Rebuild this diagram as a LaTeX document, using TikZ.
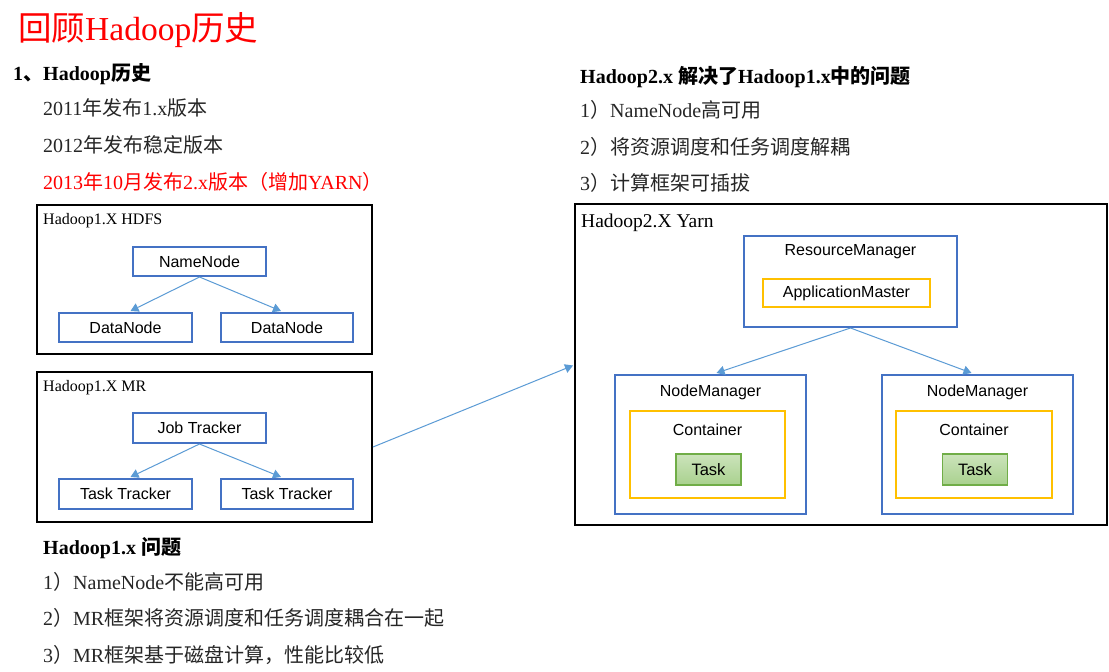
\documentclass[tikz,border=0pt]{standalone}
\usepackage{fontspec}
\setmainfont{Liberation Serif}
\setsansfont{Liberation Sans}
\newfontfamily\cjk{Noto Sans CJK SC}
\usetikzlibrary{arrows.meta,calc}
\definecolor{boxblue}{HTML}{4472C4}
\definecolor{boxyellow}{HTML}{FFC000}
\definecolor{arrowblue}{HTML}{5B9BD5}
\definecolor{taskgreen}{HTML}{A9D18E}
\definecolor{taskborder}{HTML}{70AD47}
\definecolor{txt}{HTML}{262626}
\newcommand\zh[1]{{\cjk #1}}
\tikzset{
  txtnode/.style={anchor=base west, inner sep=0pt, font=\fontsize{20}{24}\selectfont, text=txt},
  boldtxt/.style={txtnode, font=\fontsize{20}{24}\selectfont\bfseries, text=black},
  outerbox/.style={draw=black, line width=2pt, inner sep=0pt},
  boxlabel/.style={anchor=base west, inner sep=0pt, font=\fontsize{16}{19}\selectfont, text=black},
  bluebox/.style={draw=boxblue, line width=2pt, inner sep=0pt, font=\sffamily\fontsize{16}{19}\selectfont, text=black},
  yellowbox/.style={draw=boxyellow, line width=2pt, inner sep=0pt, font=\sffamily\fontsize{16}{19}\selectfont, text=black},
  taskbox/.style={draw=taskborder, line width=1.2pt, top color=taskgreen!60!white, bottom color=taskgreen, inner sep=0pt, font=\sffamily\fontsize{16.5}{19}\selectfont, text=black, minimum width=65pt, minimum height=31pt},
  sanslabel/.style={inner sep=0pt, font=\sffamily\fontsize{16}{19}\selectfont, text=black},
  arr/.style={draw=arrowblue, line width=1pt, -{Triangle[width=9pt,length=8pt]}}
}
\begin{document}
\begin{tikzpicture}[x=1pt,y=-1pt]
\useasboundingbox (0,0) rectangle (1109,672);
\fill[white] (0,0) rectangle (1109,672);

% title and left text
\node[txtnode, font=\fontsize{33.5}{40}\selectfont, text=red] (title) at (18,40) {\zh{回顾}Hadoop\zh{历史}};
\node[boldtxt] (h1) at (13,80) {1\zh{、}Hadoop\zh{历史}};
\node[txtnode] (l1) at (43,115) {2011\zh{年发布}1.x\zh{版本}};
\node[txtnode] (l2) at (43,152) {2012\zh{年发布稳定版本}};
\node[txtnode, text=red] (l3) at (43,189) {2013\zh{年}10\zh{月发布}2.x\zh{版本（增加}YARN\zh{）}};

% right text
\node[boldtxt] (h2) at (580,83) {Hadoop2.x \zh{解决了}Hadoop1.x\zh{中的问题}};
\node[txtnode] (r1) at (580,117) {1\zh{）}NameNode\zh{高可用}};
\node[txtnode] (r2) at (580,154) {2\zh{）将资源调度和任务调度解耦}};
\node[txtnode] (r3) at (580,190) {3\zh{）计算框架可插拔}};

% bottom text
\node[boldtxt] (h3) at (43,554) {Hadoop1.x \zh{问题}};
\node[txtnode] (b1) at (43,589) {1\zh{）}NameNode\zh{不能高可用}};
\node[txtnode] (b2) at (43,625) {2\zh{）}MR\zh{框架将资源调度和任务调度耦合在一起}};
\node[txtnode] (b3) at (43,662) {3\zh{）}MR\zh{框架基于磁盘计算，性能比较低}};

% HDFS box
\node[outerbox, minimum width=335pt, minimum height=149pt] (hdfs) at (204.5,279.5) {};
\node[boxlabel] (hdfslab) at (43,224.5) {Hadoop1.X HDFS};
\node[bluebox, minimum width=133pt, minimum height=29pt] (nn) at (199.5,261.5) {NameNode};
\node[bluebox, minimum width=133pt, minimum height=29pt] (dnl) at (125.5,327.5) {DataNode};
\node[bluebox, minimum width=132pt, minimum height=29pt] (dnr) at (287,327.5) {DataNode};
\draw[arr] (nn.south) -- ($(dnl.north)+(5,-1)$);
\draw[arr] (nn.south) -- ($(dnr.north)+(-6,-1)$);

% MR box
\node[outerbox, minimum width=335pt, minimum height=150pt] (mr) at (204.5,447) {};
\node[boxlabel] (mrlab) at (43,391.5) {Hadoop1.X MR};
\node[bluebox, minimum width=133pt, minimum height=30pt] (jt) at (199.5,428) {Job Tracker};
\node[bluebox, minimum width=133pt, minimum height=30pt] (ttl) at (125.5,494) {Task Tracker};
\node[bluebox, minimum width=132pt, minimum height=30pt] (ttr) at (287,494) {Task Tracker};
\draw[arr] (jt.south) -- ($(ttl.north)+(5,-1)$);
\draw[arr] (jt.south) -- ($(ttr.north)+(-6,-1)$);

% Yarn box
\node[outerbox, minimum width=532pt, minimum height=321pt] (yarn) at (841,364.5) {};
\node[boxlabel, font=\fontsize{19.5}{23}\selectfont] (yarnlab) at (581,227) {Hadoop2.X Yarn};

\node[bluebox, minimum width=213pt, minimum height=91pt] (rm) at (850.5,281.5) {};
\node[sanslabel] (rmlab) at (850.5,252) {ResourceManager};
\node[yellowbox, minimum width=167pt, minimum height=28pt] (am) at (846.5,293) {ApplicationMaster};

\node[bluebox, minimum width=191pt, minimum height=139pt] (nm1) at (710.5,444.5) {};
\node[sanslabel] (nm1lab) at (710.5,392) {NodeManager};
\node[yellowbox, minimum width=155pt, minimum height=87pt] (c1) at (707.5,454.5) {};
\node[sanslabel] (c1lab) at (707.5,430) {Container};
\node[taskbox] (t1) at (708.5,469.5) {Task};

\node[bluebox, minimum width=191pt, minimum height=139pt] (nm2) at (977.5,444.5) {};
\node[sanslabel] (nm2lab) at (977.5,392) {NodeManager};
\node[yellowbox, minimum width=156pt, minimum height=87pt] (c2) at (974,454.5) {};
\node[sanslabel] (c2lab) at (974,430) {Container};
\node[taskbox] (t2) at (975,469.5) {Task};

\draw[arr] (rm.south) -- ($(nm1.north)+(6,-1)$);
\draw[arr] (rm.south) -- ($(nm2.north)+(-6,-1)$);

% arrow from MR to Yarn
\draw[arr] (mr.east) -- ($(yarn.west)+(-1,1)$);
\end{tikzpicture}
\end{document}
